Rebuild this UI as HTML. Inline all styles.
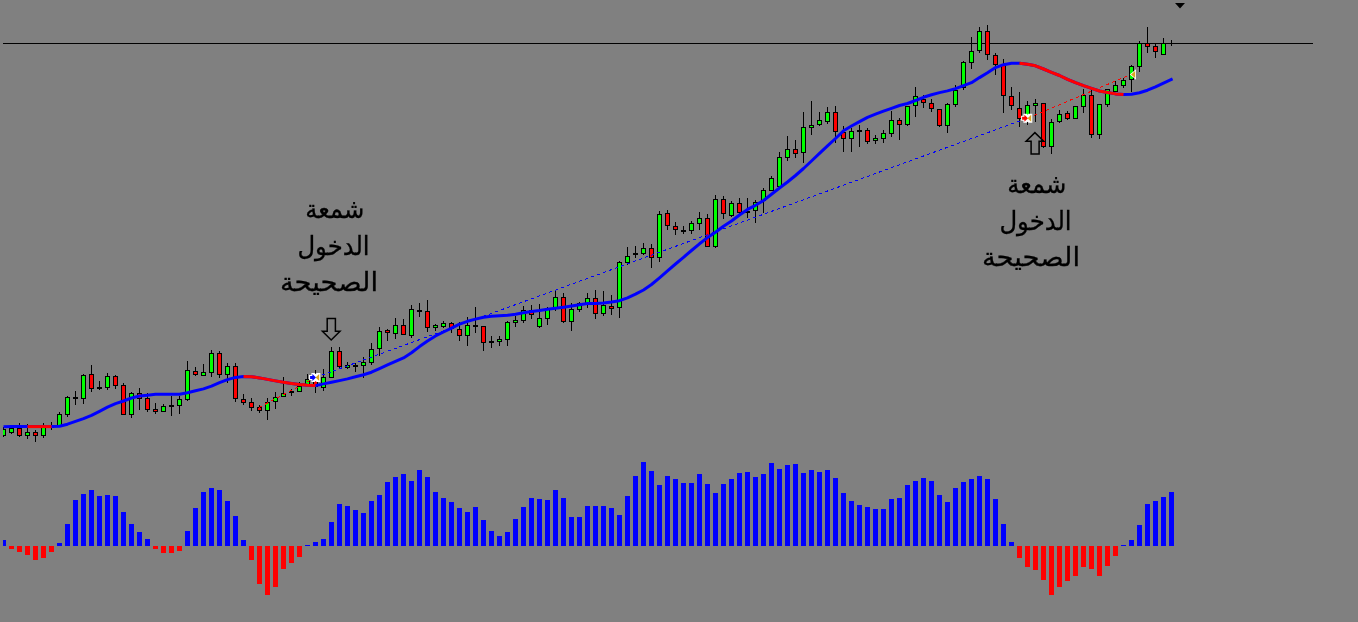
<!DOCTYPE html>
<html lang="ar"><head><meta charset="utf-8"><title>Chart</title>
<style>
html,body{margin:0;padding:0;background:#808080;overflow:hidden}
#chart{position:relative;width:1358px;height:622px;background:#808080;overflow:hidden}
#chart svg{position:absolute;left:0;top:0;display:block}
.lbl{font-family:"Liberation Sans","DejaVu Sans",sans-serif}
</style></head><body>
<div id="chart">
<svg width="1358" height="622" viewBox="0 0 1358 622">
<defs><clipPath id="cl"><rect x="3" y="0" width="1355" height="622"/></clipPath></defs>
<rect width="1358" height="622" fill="#808080"/>
<g clip-path="url(#cl)">
<rect x="3" y="43" width="1310" height="1" fill="#000" shape-rendering="crispEdges"/>
<path d="M1175 3H1185L1180 8.5Z" fill="#000"/>
<g shape-rendering="crispEdges">
<path fill="#0000ff" d="M1 540h5v6h-5zM57 543h5v3h-5zM65 524h5v22h-5zM73 500h5v46h-5zM81 494h5v52h-5zM89 490h5v56h-5zM97 496h5v50h-5zM105 495h5v51h-5zM113 496h5v50h-5zM121 512h5v34h-5zM129 524h5v22h-5zM137 532h5v14h-5zM145 539h5v7h-5zM185 531h5v15h-5zM193 508h5v38h-5zM201 492h5v54h-5zM209 488h5v58h-5zM217 490h5v56h-5zM225 501h5v45h-5zM233 516h5v30h-5zM241 540h5v6h-5zM305 545h5v1h-5zM313 542h5v4h-5zM321 539h5v7h-5zM329 522h5v24h-5zM337 504h5v42h-5zM345 506h5v40h-5zM353 510h5v36h-5zM361 513h5v33h-5zM369 501h5v45h-5zM377 495h5v51h-5zM385 482h5v64h-5zM393 477h5v69h-5zM401 474h5v72h-5zM409 481h5v65h-5zM417 470h5v76h-5zM425 477h5v69h-5zM433 492h5v54h-5zM441 498h5v48h-5zM449 502h5v44h-5zM457 508h5v38h-5zM465 512h5v34h-5zM473 507h5v39h-5zM481 520h5v26h-5zM489 531h5v15h-5zM497 536h5v10h-5zM505 532h5v14h-5zM513 519h5v27h-5zM521 507h5v39h-5zM529 498h5v48h-5zM537 499h5v47h-5zM545 500h5v46h-5zM553 490h5v56h-5zM561 498h5v48h-5zM569 517h5v29h-5zM577 517h5v29h-5zM585 506h5v40h-5zM593 506h5v40h-5zM601 506h5v40h-5zM609 508h5v38h-5zM617 515h5v31h-5zM625 496h5v50h-5zM633 476h5v70h-5zM641 462h5v84h-5zM649 471h5v75h-5zM657 485h5v61h-5zM665 476h5v70h-5zM673 479h5v67h-5zM681 483h5v63h-5zM689 483h5v63h-5zM697 474h5v72h-5zM705 484h5v62h-5zM713 493h5v53h-5zM721 484h5v62h-5zM729 479h5v67h-5zM737 473h5v73h-5zM745 472h5v74h-5zM753 477h5v69h-5zM761 474h5v72h-5zM769 463h5v83h-5zM777 469h5v77h-5zM785 465h5v81h-5zM793 464h5v82h-5zM801 473h5v73h-5zM809 470h5v76h-5zM817 472h5v74h-5zM825 470h5v76h-5zM833 478h5v68h-5zM841 493h5v53h-5zM849 501h5v45h-5zM857 505h5v41h-5zM865 507h5v39h-5zM873 509h5v37h-5zM881 509h5v37h-5zM889 499h5v47h-5zM897 498h5v48h-5zM905 485h5v61h-5zM913 481h5v65h-5zM921 478h5v68h-5zM929 481h5v65h-5zM937 495h5v51h-5zM945 502h5v44h-5zM953 488h5v58h-5zM961 482h5v64h-5zM969 479h5v67h-5zM977 476h5v70h-5zM985 479h5v67h-5zM993 499h5v47h-5zM1001 524h5v22h-5zM1009 542h5v4h-5zM1121 545h5v1h-5zM1129 540h5v6h-5zM1137 525h5v21h-5zM1145 504h5v42h-5zM1153 501h5v45h-5zM1161 497h5v49h-5zM1169 492h5v54h-5z"/>
<path fill="#ff0000" d="M9 546h5v3h-5zM17 546h5v6h-5zM25 546h5v9h-5zM33 546h5v14h-5zM41 546h5v12h-5zM49 546h5v6h-5zM153 546h5v3h-5zM161 546h5v7h-5zM169 546h5v7h-5zM177 546h5v5h-5zM249 546h5v14h-5zM257 546h5v38h-5zM265 546h5v49h-5zM273 546h5v41h-5zM281 546h5v23h-5zM289 546h5v17h-5zM297 546h5v11h-5zM1017 546h5v12h-5zM1025 546h5v21h-5zM1033 546h5v24h-5zM1041 546h5v34h-5zM1049 546h5v49h-5zM1057 546h5v41h-5zM1065 546h5v35h-5zM1073 546h5v30h-5zM1081 546h5v21h-5zM1089 546h5v23h-5zM1097 546h5v30h-5zM1105 546h5v20h-5zM1113 546h5v10h-5z"/>
</g>
<g shape-rendering="crispEdges">
<path fill="#000" d="M3 427h1v10h-1zM1 429h5v7h-5zM11 426h1v8h-1zM9 428h5v5h-5zM19 423h1v14h-1zM17 428h5v8h-5zM27 424h1v15h-1zM25 432h5v4h-5zM35 430h1v12h-1zM33 432h5v4h-5zM43 423h1v15h-1zM41 427h5v9h-5zM51 422h1v8h-1zM49 426h5v2h-5zM59 412h1v15h-1zM57 414h5v13h-5zM67 396h1v21h-1zM65 397h5v18h-5zM75 391h1v14h-1zM73 397h5v2h-5zM83 374h1v30h-1zM81 375h5v24h-5zM91 365h1v27h-1zM89 374h5v15h-5zM99 381h1v9h-1zM97 387h5v2h-5zM107 373h1v17h-1zM105 376h5v12h-5zM115 375h1v14h-1zM113 376h5v10h-5zM123 383h1v32h-1zM121 385h5v30h-5zM131 392h1v26h-1zM129 393h5v22h-5zM139 388h1v22h-1zM137 393h5v6h-5zM147 393h1v19h-1zM145 398h5v12h-5zM155 403h1v11h-1zM153 409h5v3h-5zM163 404h1v8h-1zM161 406h5v6h-5zM171 396h1v20h-1zM169 405h5v2h-5zM179 396h1v18h-1zM177 399h5v7h-5zM187 361h1v40h-1zM185 370h5v30h-5zM195 367h1v9h-1zM193 371h5v4h-5zM203 364h1v12h-1zM201 372h5v4h-5zM211 350h1v27h-1zM209 353h5v20h-5zM219 351h1v27h-1zM217 353h5v22h-5zM227 363h1v20h-1zM225 366h5v9h-5zM235 363h1v39h-1zM233 366h5v33h-5zM243 394h1v11h-1zM241 399h5v4h-5zM251 398h1v13h-1zM249 402h5v6h-5zM259 405h1v8h-1zM257 407h5v4h-5zM267 398h1v22h-1zM265 402h5v9h-5zM275 392h1v17h-1zM273 397h5v5h-5zM283 377h1v20h-1zM281 393h5v4h-5zM291 389h1v7h-1zM289 391h5v2h-5zM299 382h1v10h-1zM297 386h5v6h-5zM307 374h1v11h-1zM305 379h5v6h-5zM315 370h1v23h-1zM313 380h5v7h-5zM323 369h1v22h-1zM321 377h5v11h-5zM331 347h1v31h-1zM329 351h5v27h-5zM339 347h1v21h-1zM337 351h5v16h-5zM347 362h1v7h-1zM345 365h5v3h-5zM355 363h1v9h-1zM353 365h5v2h-5zM363 357h1v21h-1zM361 362h5v4h-5zM371 343h1v22h-1zM369 349h5v14h-5zM379 327h1v29h-1zM377 331h5v18h-5zM387 329h1v12h-1zM385 330h5v3h-5zM395 318h1v21h-1zM393 325h5v9h-5zM403 319h1v16h-1zM401 325h5v10h-5zM411 305h1v33h-1zM409 309h5v27h-5zM419 303h1v14h-1zM417 310h5v2h-5zM427 300h1v32h-1zM425 311h5v17h-5zM435 324h1v7h-1zM433 325h5v3h-5zM443 321h1v7h-1zM441 323h5v4h-5zM451 322h1v11h-1zM449 323h5v6h-5zM459 322h1v19h-1zM457 329h5v7h-5zM467 317h1v29h-1zM465 325h5v11h-5zM475 307h1v26h-1zM473 325h5v2h-5zM483 326h1v25h-1zM481 326h5v17h-5zM491 336h1v12h-1zM489 341h5v2h-5zM499 336h1v10h-1zM497 339h5v3h-5zM507 321h1v25h-1zM505 322h5v18h-5zM515 316h1v11h-1zM513 320h5v3h-5zM523 306h1v17h-1zM521 310h5v11h-5zM531 305h1v14h-1zM529 310h5v5h-5zM539 304h1v24h-1zM537 318h5v9h-5zM547 307h1v18h-1zM545 308h5v11h-5zM555 290h1v21h-1zM553 297h5v11h-5zM563 293h1v30h-1zM561 297h5v25h-5zM571 303h1v28h-1zM569 309h5v13h-5zM579 302h1v10h-1zM577 303h5v7h-5zM587 293h1v15h-1zM585 298h5v6h-5zM595 290h1v29h-1zM593 298h5v16h-5zM603 291h1v25h-1zM601 305h5v9h-5zM611 295h1v20h-1zM609 306h5v3h-5zM619 261h1v57h-1zM617 262h5v46h-5zM627 247h1v18h-1zM625 256h5v7h-5zM635 246h1v12h-1zM633 253h5v2h-5zM643 243h1v12h-1zM641 248h5v6h-5zM651 244h1v24h-1zM649 248h5v10h-5zM659 211h1v51h-1zM657 214h5v44h-5zM667 210h1v20h-1zM665 213h5v13h-5zM675 222h1v13h-1zM673 226h5v4h-5zM683 226h1v8h-1zM681 230h5v2h-5zM691 221h1v13h-1zM689 223h5v8h-5zM699 212h1v18h-1zM697 218h5v6h-5zM707 214h1v33h-1zM705 218h5v29h-5zM715 195h1v53h-1zM713 199h5v48h-5zM723 196h1v23h-1zM721 199h5v15h-5zM731 201h1v16h-1zM729 203h5v13h-5zM739 198h1v16h-1zM737 203h5v10h-5zM747 198h1v20h-1zM745 211h5v2h-5zM755 200h1v23h-1zM753 202h5v9h-5zM763 188h1v25h-1zM761 190h5v11h-5zM771 176h1v15h-1zM769 178h5v13h-5zM779 152h1v36h-1zM777 157h5v30h-5zM787 136h1v25h-1zM785 149h5v9h-5zM795 140h1v18h-1zM793 149h5v5h-5zM803 112h1v51h-1zM801 127h5v26h-5zM811 101h1v34h-1zM809 125h5v3h-5zM819 112h1v14h-1zM817 120h5v5h-5zM827 107h1v17h-1zM825 112h5v10h-5zM835 106h1v37h-1zM833 112h5v20h-5zM843 126h1v26h-1zM841 132h5v7h-5zM851 128h1v24h-1zM849 131h5v8h-5zM859 125h1v22h-1zM857 130h5v2h-5zM867 128h1v16h-1zM865 130h5v12h-5zM875 135h1v9h-1zM873 138h5v3h-5zM883 130h1v13h-1zM881 133h5v6h-5zM891 111h1v26h-1zM889 120h5v14h-5zM899 118h1v22h-1zM897 120h5v5h-5zM907 106h1v20h-1zM905 106h5v19h-5zM915 87h1v30h-1zM913 96h5v10h-5zM923 95h1v13h-1zM921 99h5v4h-5zM931 99h1v13h-1zM929 103h5v6h-5zM939 109h1v18h-1zM937 109h5v17h-5zM947 103h1v30h-1zM945 104h5v22h-5zM955 85h1v22h-1zM953 90h5v15h-5zM963 61h1v29h-1zM961 62h5v26h-5zM971 37h1v32h-1zM969 51h5v12h-5zM979 27h1v26h-1zM977 31h5v20h-5zM987 25h1v35h-1zM985 31h5v24h-5zM995 53h1v22h-1zM993 55h5v10h-5zM1003 59h1v54h-1zM1001 65h5v31h-5zM1011 87h1v23h-1zM1009 96h5v10h-5zM1019 92h1v35h-1zM1017 108h5v11h-5zM1027 101h1v24h-1zM1025 105h5v13h-5zM1035 99h1v23h-1zM1033 103h5v3h-5zM1043 103h1v45h-1zM1041 103h5v44h-5zM1051 119h1v35h-1zM1049 122h5v25h-5zM1059 110h1v13h-1zM1057 114h5v8h-5zM1067 111h1v9h-1zM1065 113h5v6h-5zM1075 106h1v13h-1zM1073 106h5v13h-5zM1083 89h1v24h-1zM1081 95h5v12h-5zM1091 90h1v48h-1zM1089 95h5v40h-5zM1099 104h1v35h-1zM1097 104h5v31h-5zM1107 89h1v18h-1zM1105 89h5v16h-5zM1115 81h1v11h-1zM1113 85h5v7h-5zM1123 78h1v10h-1zM1121 80h5v6h-5zM1131 65h1v27h-1zM1129 66h5v14h-5zM1139 41h1v31h-1zM1137 43h5v24h-5zM1147 27h1v26h-1zM1145 43h5v4h-5zM1155 44h1v14h-1zM1153 46h5v6h-5zM1163 38h1v17h-1zM1161 43h5v12h-5zM1171 40h1v6h-1z"/>
<path fill="#00ff00" d="M2 430h3v5h-3zM10 429h3v3h-3zM26 433h3v2h-3zM42 428h3v7h-3zM58 415h3v11h-3zM66 398h3v16h-3zM82 376h3v22h-3zM106 377h3v10h-3zM130 394h3v20h-3zM162 407h3v4h-3zM178 400h3v5h-3zM186 371h3v28h-3zM202 373h3v2h-3zM210 354h3v18h-3zM226 367h3v7h-3zM266 403h3v7h-3zM274 398h3v3h-3zM282 394h3v2h-3zM298 387h3v4h-3zM306 380h3v4h-3zM322 378h3v9h-3zM330 352h3v25h-3zM346 366h3v1h-3zM362 363h3v2h-3zM370 350h3v12h-3zM378 332h3v16h-3zM394 326h3v7h-3zM410 310h3v25h-3zM434 326h3v1h-3zM442 324h3v2h-3zM466 326h3v9h-3zM498 340h3v1h-3zM506 323h3v16h-3zM514 321h3v1h-3zM522 311h3v9h-3zM538 319h3v7h-3zM546 309h3v9h-3zM554 298h3v9h-3zM570 310h3v11h-3zM578 304h3v5h-3zM586 299h3v4h-3zM602 306h3v7h-3zM618 263h3v44h-3zM626 257h3v5h-3zM642 249h3v4h-3zM658 215h3v42h-3zM690 224h3v6h-3zM698 219h3v4h-3zM714 200h3v46h-3zM730 204h3v11h-3zM754 203h3v7h-3zM762 191h3v9h-3zM770 179h3v11h-3zM778 158h3v28h-3zM786 150h3v7h-3zM802 128h3v24h-3zM810 126h3v1h-3zM818 121h3v3h-3zM826 113h3v8h-3zM850 132h3v6h-3zM874 139h3v1h-3zM882 134h3v4h-3zM890 121h3v12h-3zM906 107h3v17h-3zM914 97h3v8h-3zM946 105h3v20h-3zM954 91h3v13h-3zM962 63h3v24h-3zM970 52h3v10h-3zM978 32h3v18h-3zM1026 106h3v11h-3zM1034 104h3v1h-3zM1050 123h3v23h-3zM1058 115h3v6h-3zM1074 107h3v11h-3zM1082 96h3v10h-3zM1098 105h3v29h-3zM1106 90h3v14h-3zM1114 86h3v5h-3zM1122 81h3v4h-3zM1130 67h3v12h-3zM1138 44h3v22h-3zM1162 44h3v10h-3z"/>
<path fill="#ff0000" d="M18 429h3v6h-3zM34 433h3v2h-3zM90 375h3v13h-3zM114 377h3v8h-3zM122 386h3v28h-3zM138 394h3v4h-3zM146 399h3v10h-3zM154 410h3v1h-3zM194 372h3v2h-3zM218 354h3v20h-3zM234 367h3v31h-3zM242 400h3v2h-3zM250 403h3v4h-3zM258 408h3v2h-3zM314 381h3v5h-3zM338 352h3v14h-3zM386 331h3v1h-3zM402 326h3v8h-3zM426 312h3v15h-3zM450 324h3v4h-3zM458 330h3v5h-3zM482 327h3v15h-3zM530 311h3v3h-3zM562 298h3v23h-3zM594 299h3v14h-3zM610 307h3v1h-3zM650 249h3v8h-3zM666 214h3v11h-3zM674 227h3v2h-3zM706 219h3v27h-3zM722 200h3v13h-3zM738 204h3v8h-3zM794 150h3v3h-3zM834 113h3v18h-3zM842 133h3v5h-3zM866 131h3v10h-3zM898 121h3v3h-3zM922 100h3v2h-3zM930 104h3v4h-3zM938 110h3v15h-3zM986 32h3v22h-3zM994 56h3v8h-3zM1002 66h3v29h-3zM1010 97h3v8h-3zM1018 109h3v9h-3zM1042 104h3v42h-3zM1066 114h3v4h-3zM1090 96h3v38h-3zM1146 44h3v2h-3zM1154 47h3v4h-3z"/>
</g>
<polyline points="3.5,426.7 11.5,426.6 19.5,426.6 27.5,426.6 35.5,426.6 43.5,426.6 51.5,426.6 59.5,426.3 67.5,424.2 75.5,421.4 83.5,418.6 91.5,415.3 99.5,411.3 107.5,407.2 115.5,403.6 123.5,401 131.5,398 139.5,396 147.5,395.2 155.5,394.3 163.5,394.3 171.5,394.3 179.5,394.2 187.5,392.8 195.5,390.8 203.5,388.9 211.5,386.2 219.5,382.7 227.5,379.6 235.5,377.4 243.5,376.4 251.5,376.7 259.5,377.9 267.5,379.4 275.5,380.9 283.5,382.3 291.5,383.4 299.5,384.6 307.5,385.3 315.5,385.6 323.5,383.9 331.5,382.2 339.5,380.6 347.5,378.9 355.5,376.7 363.5,374.7 371.5,372.2 379.5,368.6 387.5,364.9 395.5,361.4 403.5,357.9 411.5,352.8 419.5,346.6 427.5,341 435.5,335.9 443.5,332 451.5,328.1 459.5,324.1 467.5,321.3 475.5,319.1 483.5,317.3 491.5,316.2 499.5,315.7 507.5,315.2 515.5,314.2 523.5,312.7 531.5,311.5 539.5,310.6 547.5,309.3 555.5,308.3 563.5,307.2 571.5,306 579.5,304.8 587.5,303.5 595.5,303.5 603.5,303 611.5,302 619.5,300.7 627.5,297.8 635.5,294.2 643.5,290 651.5,284.5 659.5,277.8 667.5,270.8 675.5,264 683.5,257.3 691.5,250.5 699.5,243.8 707.5,237.6 715.5,232.2 723.5,226.2 731.5,221 739.5,215 747.5,209.4 755.5,205.3 763.5,200.5 771.5,194.2 779.5,188 787.5,182 795.5,175.5 803.5,168.5 811.5,161 819.5,153.4 827.5,145.8 835.5,138.5 843.5,130.8 851.5,126 859.5,121.6 867.5,117.4 875.5,114.2 883.5,111.2 891.5,108.3 899.5,105.5 907.5,103.5 915.5,100.5 923.5,97.3 931.5,94.8 939.5,92.6 947.5,90.9 955.5,88.6 963.5,85.7 971.5,82.7 979.5,77.6 987.5,72.8 995.5,67.6 1003.5,64.7 1011.5,63.2 1019.5,63.2 1027.5,64.3 1035.5,65.8 1043.5,69 1051.5,72.4 1059.5,75.5 1067.5,79.3 1075.5,82.7 1083.5,85.7 1091.5,88.4 1099.5,91 1107.5,92.4 1115.5,93.9 1123.5,94.6 1131.5,94.2 1139.5,92.7 1147.5,90.2 1155.5,86.8 1163.5,83.1 1171.5,79.4 1172.6,78.9" fill="none" stroke="#0000ff" stroke-width="3" stroke-linejoin="round" stroke-linecap="butt"/>
<polyline points="27.5,426.6 35.5,426.6 43.5,426.6 51.5,426.6" fill="none" stroke="#ff0000" stroke-width="3" stroke-linejoin="round" stroke-linecap="butt"/>
<polyline points="243.5,376.4 251.5,376.7 259.5,377.9 267.5,379.4 275.5,380.9 283.5,382.3 291.5,383.4 299.5,384.6 307.5,385.3 315.5,385.6" fill="none" stroke="#ff0000" stroke-width="3" stroke-linejoin="round" stroke-linecap="butt"/>
<polyline points="1019.5,63.2 1027.5,64.3 1035.5,65.8 1043.5,69 1051.5,72.4 1059.5,75.5 1067.5,79.3 1075.5,82.7 1083.5,85.7 1091.5,88.4 1099.5,91 1107.5,92.4 1115.5,93.9 1123.5,94.6" fill="none" stroke="#ff0000" stroke-width="3" stroke-linejoin="round" stroke-linecap="butt"/>
<line x1="315.5" y1="377.5" x2="1026.5" y2="118.5" stroke="#0000ff" stroke-width="1" stroke-dasharray="3.19 3.19" shape-rendering="crispEdges"/>
<line x1="259" y1="407.5" x2="311" y2="380" stroke="#ff0000" stroke-width="1" stroke-dasharray="3.4 3.4" shape-rendering="crispEdges"/>
<line x1="1028" y1="118" x2="1131" y2="74.5" stroke="#ff0000" stroke-width="1" stroke-dasharray="3.25 3.25" shape-rendering="crispEdges"/>
<g><path d="M309.1 375.0h2.3v-2h3.2l1 1l1-1h3.7v9h-3.7l-1-1l-1 1h-3.2v-2h-2.3z" fill="#fff"/><path d="M310.1 376.0h2.3v-2l3.6 3.5l-3.6 3.5v-2h-2.3z" fill="#0000ff"/><path d="M315.6 377.5l3.6-3.5v7z" fill="#daa520"/><path d="M1021.0999999999999 115.8h2.3v-2h3.2l1 1l1-1h3.7v9h-3.7l-1-1l-1 1h-3.2v-2h-2.3z" fill="#fff"/><path d="M1022.0999999999999 116.8h2.3v-2l3.6 3.5l-3.6 3.5v-2h-2.3z" fill="#ff0000"/><path d="M1027.6 118.3l3.6-3.5v7z" fill="#daa520"/><path d="M1129.8 74.5l6.2-5.3v10.6z" fill="#fff"/><path d="M1131 74.5l4.2-3.6v7.2z" fill="#daa520"/></g>
<g fill="none" stroke="#000" stroke-width="1.5" stroke-linejoin="miter"><path d="M327.2 318.6h8.2v12.6h4.6l-8.8 8.8l-8.8-8.8h4.8z"/><path d="M1034.9 132.6l8.8 8.6h-4.6v12.8h-8v-12.8h-5z"/></g>
</g>
<g class="lbl" font-size="26" text-anchor="middle" direction="rtl" fill="#000" stroke="#000" stroke-width="0.3">
<text transform="translate(334.8 218.4) scale(0.933 1)">شمعة</text>
<text transform="translate(333.5 254.8) scale(0.936 1)">الدخول</text>
<text transform="translate(329 291.4) scale(1.056 1)">الصحيحة</text>
<text transform="translate(1036.8 193.4) scale(0.933 1)">شمعة</text>
<text transform="translate(1035.5 229.8) scale(0.936 1)">الدخول</text>
<text transform="translate(1031 266.4) scale(1.056 1)">الصحيحة</text>
</g>
</svg>
</div></body></html>
